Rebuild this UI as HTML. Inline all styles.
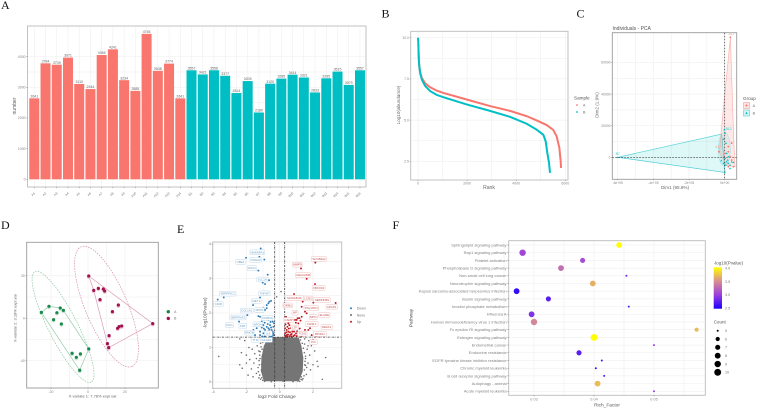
<!DOCTYPE html>
<html lang="en">
<head>
<meta charset="utf-8">
<title>Multi-panel proteomics figure</title>
<style>
html,body{margin:0;padding:0;background:#fff;}
svg{display:block;font-family:"Liberation Sans",sans-serif;}
.serif{font-family:"Liberation Serif",serif;}
</style>
</head>
<body>
<svg id="fig" xmlns="http://www.w3.org/2000/svg" width="757" height="408" viewBox="0 0 757 408">
<rect x="0" y="0" width="757" height="408" fill="#ffffff"/>
<text class="serif" x="1" y="9" font-size="12" fill="#111">A</text>
<text class="serif" x="381.5" y="17.5" font-size="12" fill="#111">B</text>
<text class="serif" x="576.5" y="17.5" font-size="12" fill="#111">C</text>
<text class="serif" x="1" y="229" font-size="12" fill="#111">D</text>
<text class="serif" x="177" y="233" font-size="12" fill="#111">E</text>
<text class="serif" x="392.5" y="229" font-size="12" fill="#111">F</text>
<defs>
<linearGradient id="pvalGrad" x1="0" y1="1" x2="0" y2="0">
<stop offset="0" stop-color="#1a00ff"/><stop offset="0.33" stop-color="#9a3ee0"/><stop offset="0.67" stop-color="#d9908f"/><stop offset="1" stop-color="#ffff00"/>
</linearGradient>
</defs>
</svg>
<script>
/* ---------- Panel A data ---------- */
const sampleNamesA = ["A1","A2","A3","A4","A5","A6","A7","A8","A9","A10","A11","A12","A13","A14"];
const sampleValuesA = [2641,3784,3739,3971,3110,2944,4055,4241,3234,2885,4745,3538,3774,2641];
const sampleNamesB = ["B1","B2","B3","B4","B5","B6","B7","B8","B9","B10","B11","B12","B13","B14","B15","B16"];
const sampleValuesB = [3557,3421,3558,3377,2814,3205,2180,3120,3285,3414,3321,2833,3295,3515,3079,3557];
const countTicks = [0,1000,2000,3000,4000];

/* ---------- Panel B data ---------- */
const rankTicks = [0,2000,4000,6000];
const abundanceTicks = [2.5,5,7.5,10];
const rankA = [14,41,81,149,285,489,760,1032,1983,2933,3748,4427,4834,5242,5513,5649,5758,5812,5826];
const abundanceA = [9.64,8.45,7.94,7.58,7.24,7.0,6.79,6.65,6.25,5.85,5.56,5.24,4.98,4.70,4.40,4.01,3.31,2.50,2.10];
const rankB = [0,14,27,54,95,163,285,489,760,1032,1983,2933,3748,4427,4834,5106,5201,5269,5337,5378];
const abundanceB = [10,9.64,8.85,8.25,7.8,7.44,7.08,6.77,6.53,6.39,5.95,5.56,5.2,4.78,4.42,4.11,3.71,3.0,2.4,1.8];

/* ---------- Panel C data ---------- */
const pcaXTicks = [-600000,-400000,-200000,0];
const pcaXLabels = ["-6e+05","-4e+05","-2e+05","0e+00"];
const pcaYTicks = [0,20000,40000,60000];
const pcaHullA = [[31800,76000],[-26000,8900],[-30000,3000],[11000,-4900],[58000,-6000],[52000,6800]];
const pcaHullB = [[-600000,0],[-17000,14700],[2000,-9600]];
const pcaPointsA = [[31800,76000],[-33000,3500],[20000,6800],[39000,9000],[20000,3500],[30000,400],[49000,-6000],[2000,2500],[39000,-1700],[20000,-6000]];
const pcaPointsB = [[-600000,0],[-2000,17500],[2000,15300],[-6000,11500],[7000,9000],[-19000,-2100],[11000,2500],[20000,400],[2000,-600],[11000,-2800],[20000,-3800],[30000,-4900],[6000,-4900],[17000,-1700],[39000,-2800],[30000,-7000],[49000,-3200],[0,-9600],[-7000,-3800]];

/* ---------- Panel D data ---------- */
const plsdaXTicks = [-20,0,20];
const plsdaYTicks = [-40,0,40];
const plsdaA = [[-25.2,5.6],[-21.1,11.3],[-15,9.7],[-13.3,7.5],[-16.8,5.3],[-18.6,-1.3],[-14.4,-5.3],[-8.6,-32.9],[-4.1,-33.5],[-6.3,-36.7],[-4.5,-48.9],[0.4,-28.8]];
const plsdaB = [[0.4,39.8],[3.1,26.3],[5.6,28.2],[8.3,27.6],[9,25.7],[6.5,17.6],[16.4,12.5],[13.2,6.3],[35,-5],[18.2,-7.2],[16.8,-7.8],[16,-9.4],[11.4,-16.3],[10.5,-23.8],[11.2,-27.6]];
const plsdaHullA = [[-25.2,5.6],[-21.1,11.3],[-15,9.7],[-13.3,7.5],[0.4,-28.8],[-4.5,-48.9]];
const plsdaHullB = [[0.4,39.8],[35,-5],[11.2,-27.6],[10.5,-23.8],[3.1,26.3]];
const plsdaEllipseCentreA = [-13.5,-8];
const plsdaEllipseCentreB = [10,11];

/* ---------- Panel E data ---------- */
const fcTicks = [-4,-2,0,2];
const logPTicks = [0,1,2,3,4];
const volcanoDown = [[-1.14,3.87],[-1.22,3.63],[-0.92,3.55],[-2.02,3.60],[-1.28,3.23],[-0.72,3.11],[-1.22,3.01],[-1.02,2.88],[-0.88,2.84],[-0.64,2.95],[-3.72,2.39],[-3.36,2.45],[-1.6,2.23],[-1.54,2.33],[-1.18,2.45],[-0.78,2.14],[-0.62,2.33],[-0.52,2.35],[-0.68,2.28],[-0.78,2.23],[-0.98,2.15],[-0.88,2.09],[-1.94,1.94],[-2.08,1.89],[-2.44,1.75],[-1.28,1.91],[-1.18,1.89],[-0.88,1.89],[-0.58,1.89],[-0.48,1.85],[-0.68,1.80],[-1.28,1.70],[-0.98,1.65],[-0.78,1.60],[-0.58,1.65],[-0.38,1.60],[-0.88,1.51],[-0.68,1.56],[-1.18,1.46],[-0.98,1.41],[-0.48,1.51],[-0.38,1.41],[-1.58,1.51],[-1.38,1.56],[-0.78,1.36],[-0.58,1.41],[-0.38,1.36],[-1.18,1.36],[-1.48,1.36],[-0.34,1.70],[-0.42,1.75],[-0.58,1.31],[-0.88,1.33],[-1.08,1.58],[-0.68,1.46],[-0.52,1.58],[-0.72,1.68],[-0.85,1.44],[-0.95,1.55],[-0.62,1.52],[-0.42,1.46],[-0.55,1.74],[-1.08,1.75],[-0.9,1.72],[-0.72,1.38],[-0.48,1.33],[-1.05,1.32]];
const volcanoUp = [[2.14,3.46],[1.28,3.29],[1.62,2.99],[2.12,2.84],[0.86,2.55],[2.02,2.30],[3.36,2.29],[1.38,2.33],[1.32,2.18],[1.52,2.04],[1.18,1.85],[1.02,1.80],[0.92,1.80],[1.12,1.70],[1.32,1.89],[1.62,1.99],[1.82,1.56],[1.72,1.51],[1.92,1.36],[0.38,1.89],[0.46,1.60],[0.58,1.65],[0.42,1.51],[0.52,1.46],[0.66,1.56],[0.78,1.60],[0.86,1.46],[0.98,1.41],[0.42,1.36],[0.58,1.33],[0.72,1.39],[0.32,1.41],[0.32,1.56],[0.36,1.31],[1.12,1.36],[1.32,1.33],[1.52,1.51],[0.82,1.33],[0.46,1.75],[0.35,1.67],[0.5,1.38],[0.62,1.44],[0.7,1.32],[0.4,1.44],[0.55,1.55],[0.9,1.36],[1.05,1.47],[1.2,1.55],[0.45,1.32],[0.32,1.34],[0.66,1.37],[0.76,1.46],[1.02,1.33],[0.52,1.7],[1.08,1.85],[0.97,1.72],[1.25,1.78],[2.2,1.33],[2.0,1.22]];
const volcanoNoneCore = [[-0.7,1.28],[-0.25,1.3],[0.3,1.3],[1.15,1.28],[1.3,1.05],[1.42,0.7],[1.38,0.3],[1.15,0.02],[-0.95,0.02],[-1.12,0.3],[-1.1,0.7],[-0.95,1.05]];
const volcanoNone = [[-3.66,0.74],[2.56,0.08],[2.76,0.71],[0.08,2.62],[-0.18,2.47],[-2.4,1.25],[-2.1,1.2],[-1.5,1.25],[-1.3,1.18],[-1.1,1.22],[-2.3,0.85],[-2.0,0.78],[-1.85,1.0],[-1.65,0.95],[-1.5,0.82],[-1.35,1.05],[-1.25,0.9],[-2.4,0.5],[-2.25,0.4],[-2.0,0.55],[-1.8,0.65],[-1.7,0.38],[-1.55,0.55],[-1.4,0.68],[-1.3,0.42],[-1.9,0.2],[-1.6,0.15],[-1.4,0.25],[-1.25,0.12],[-1.15,0.08],[-1.05,0.75],[-1.2,0.78],[-1.28,0.3],[-1.15,1.12],[-0.95,1.2],[1.5,1.25],[1.75,1.2],[1.9,1.05],[2.1,0.9],[1.65,0.95],[1.8,0.78],[2.25,0.6],[2.0,0.5],[1.85,0.35],[1.7,0.55],[1.6,0.22],[1.4,0.1],[1.55,0.75],[1.5,1.1],[1.35,0.06],[1.3,0.15],[1.7,1.05],[2.3,0.45],[1.62,0.42],[-0.9,0.02],[-0.5,0.01],[0.2,0.02],[0.8,0.01],[1.1,0.03],[-1.1,0.35],[-1.08,0.5],[1.48,0.35],[1.52,0.6],[1.55,0.48],[-1.22,0.5],[-1.18,0.68],[-1.06,0.95],[-1.12,1.02],[-1.02,1.15],[-0.88,1.27],[-0.8,1.2],[-1.18,0.88],[-1.24,0.62],[-1.2,0.2],[-1.08,0.12],[-1.02,0.05],[1.25,1.22],[1.36,1.12],[1.42,0.98],[1.48,0.85],[1.55,0.68],[1.5,0.5],[1.46,0.18],[1.28,0.08],[1.22,1.3],[1.2,0.02],[-0.95,1.3],[-0.82,1.3]];
const downLabelNames = ["HNRNPA1","YWHAZ","UBE2","RAC1","SLC1A","TNFSF","SERPINC1","CD36","MET1","COL1A1","DPP4","GNPDA","SERPINA3","FGG","KRT","APOA","HMGB","IL6","TTR","CFHR1"];
const downLabelAt = [[-1.34,3.76],[-1.44,3.54],[-2.36,3.48],[-1.66,3.30],[-1.04,2.97],[-0.92,2.57],[-3.12,2.56],[-3.68,2.26],[-1.4,2.35],[-1.98,2.07],[-1.22,2.09],[-0.74,1.86],[-2.52,1.87],[-3.02,1.65],[-2.22,1.63],[-1.32,1.67],[-1.82,1.43],[-0.68,1.41],[-1.48,1.22],[-0.78,1.22]];
const upLabelNames = ["SCGB3A2","MMP9","CEACAM8","FBXO32","S100A8/A9","LCN2","SERPINB1","ORM1","PGLYRP1","AZGP1","HP","MPO","ELANE","CAMP","CHI3L1","DEFA1","LTF","TCN1","BPIFA1","PI3"];
const upLabelAt = [[2.36,3.57],[1.06,3.40],[1.40,3.10],[2.34,2.73],[0.88,2.43],[1.70,2.42],[2.54,2.38],[0.48,2.22],[1.9,2.14],[3.12,2.18],[0.92,2.01],[2.02,1.88],[2.68,1.94],[0.54,1.80],[1.92,1.68],[2.82,1.59],[0.9,1.58],[1.36,1.40],[2.42,1.39],[2.02,1.16]];

/* ---------- Panel F data ---------- */
const pathways = ["Sphingolipid signaling pathway","Rap1 signaling pathway","Platelet activation","Phospholipase D signaling pathway","Non-small cell lung cancer","Neurotrophin signaling pathway","Kaposi sarcoma-associated herpesvirus infection","Insulin signaling pathway","Inositol phosphate metabolism","Influenza A","Human immunodeficiency virus 1 infection","Fc epsilon RI signaling pathway","Estrogen signaling pathway","Endometrial cancer","Endocrine resistance","EGFR tyrosine kinase inhibitor resistance","Chronic myeloid leukemia","B cell receptor signaling pathway","Autophagy - animal","Acute myeloid leukemia"];
const richFactor = [0.0442,0.0281,0.0381,0.0345,0.0454,0.0398,0.0271,0.0324,0.0458,0.0296,0.03,0.0571,0.04,0.05,0.0375,0.0413,0.0403,0.0417,0.0406,0.05];
const pathwayCount = [8,9,7,8,5,8,8,7,5,8,9,6,10,5,7,5,5,5,8,5];
const negLogP = [4.0,3.05,3.1,3.3,2.8,3.65,2.6,2.75,2.75,2.9,3.45,3.7,4.0,3.0,2.75,2.65,2.6,2.7,3.7,3.0];
const richTicks = [0.03,0.04,0.05];
const pLegendTicks = [2.5,3.0,3.5,4.0];
const countLegend = [5,6,7,8,9,10];

/* ---------- helpers ---------- */
const NS = 'http://www.w3.org/2000/svg';
const fig = document.getElementById('fig');
function mk(tag, attrs, parent, text) {
  const e = document.createElementNS(NS, tag);
  for (const k in attrs) e.setAttribute(k, attrs[k]);
  if (text !== undefined) e.textContent = text;
  (parent || fig).appendChild(e);
  return e;
}
function linear(d0, d1, r0, r1) { return v => r0 + (v - d0) * (r1 - r0) / (d1 - d0); }
function group(name) {
  const g = mk('g', {});
  
  
  return g;
}
function label(g, name, x, y, str, size, fill, anchor, rot) {
  const a = {x: x, y: y, 'font-size': size, fill: fill, 'text-anchor': anchor || 'middle'};
  if (rot !== undefined) a.transform = 'rotate(' + rot + ' ' + x + ' ' + y + ')';
  const t = mk('text', a, g, str);
  
  
  return t;
}
function frame(g, x0, y0, x1, y1, color, xs, ys) {
  for (const v of xs) {
    const l = mk('line', {x1: v, x2: v, y1: y0, y2: y1, stroke: '#ececec', 'stroke-width': 0.5}, g);
    
    
  }
  for (const v of ys) {
    const l = mk('line', {x1: x0, x2: x1, y1: v, y2: v, stroke: '#ececec', 'stroke-width': 0.5}, g);
    
    
  }
  const r = mk('rect', {x: x0, y: y0, width: x1 - x0, height: y1 - y0, fill: 'none', stroke: color, 'stroke-width': 0.9}, g);
  
  
}
function mids(a) { const o = []; for (let i = 0; i + 1 < a.length; i++) o.push((a[i] + a[i + 1]) / 2); return o; }
function tick(g, x1, y1, x2, y2) {
  const l = mk('line', {x1: x1, y1: y1, x2: x2, y2: y2, stroke: '#666', 'stroke-width': 0.4}, g);
  
  
}
function ptsStr(list, sx, sy) { return list.map(p => sx(p[0]).toFixed(2) + ',' + sy(p[1]).toFixed(2)).join(' '); }

/* ---------- Panel A ---------- */
(function () {
  const g = group('panel-a-bar-chart');
  const ax = i => 34.3 + i * 11.23;
  const ay = linear(0, 4000, 179.3, 56.7);
  const names = sampleNamesA.concat(sampleNamesB);
  const vals = sampleValuesA.concat(sampleValuesB);
  frame(g, 27.5, 26, 366, 187, '#bcbcbc', names.map((n, i) => ax(i)), countTicks.map(ay).concat(mids(countTicks.map(ay))));
  names.forEach((n, i) => {
    const isA = i < sampleNamesA.length;
    const b = mk('rect', {x: ax(i) - 5, y: ay(vals[i]), width: 10, height: ay(0) - ay(vals[i]), fill: isA ? '#F8766D' : '#00BFC4'}, g);
    
    
    label(g, 'bar-value-' + n, ax(i), ay(vals[i]) - 0.9, String(vals[i]), 3.5, '#666');
    tick(g, ax(i), 187, ax(i), 188.2);
    label(g, 'x-tick-label-' + n, ax(i) + 1, 193.5, n, 3.2, '#777', 'end', -45);
  });
  countTicks.forEach(v => {
    tick(g, 26.3, ay(v), 27.5, ay(v));
    label(g, 'y-tick-label', 25.6, ay(v) + 1.2, String(v), 3.5, '#888', 'end');
  });
  label(g, 'y-axis-title', 16, 106, 'number', 5, '#555', 'middle', -90);
})();

/* ---------- Panel B ---------- */
(function () {
  const g = group('panel-b-rank-abundance');
  const sx = linear(0, 6000, 418, 565.3);
  const sy = linear(2.5, 10, 161.3, 37.7);
  const gx = rankTicks.map(sx), gy = abundanceTicks.map(sy);
  frame(g, 410.7, 31.3, 568, 180, '#bcbcbc', gx.concat(mids(gx)), gy.concat(mids(gy)));
  rankTicks.forEach(v => {
    tick(g, sx(v), 180, sx(v), 181);
    label(g, 'x-tick-label', sx(v), 184.3, String(v), 3.5, '#888');
  });
  abundanceTicks.forEach(v => {
    tick(g, 409.7, sy(v), 410.7, sy(v));
    label(g, 'y-tick-label', 409, sy(v) + 1.2, v.toFixed(1), 3.5, '#888', 'end');
  });
  const lineA = mk('polyline', {points: rankA.map((r, i) => sx(r).toFixed(2) + ',' + sy(abundanceA[i]).toFixed(2)).join(' '), fill: 'none', stroke: '#F8766D', 'stroke-width': 2}, g);
  
  
  const lineB = mk('polyline', {points: rankB.map((r, i) => sx(r).toFixed(2) + ',' + sy(abundanceB[i]).toFixed(2)).join(' '), fill: 'none', stroke: '#00BFC4', 'stroke-width': 2}, g);
  
  
  label(g, 'x-axis-title', 489, 189, 'Rank', 5, '#666');
  label(g, 'y-axis-title', 400, 105, 'Log10(abundance)', 4.6, '#666', 'middle', -90);
  label(g, 'legend-title', 574, 99.5, 'Sample', 4.6, '#555', 'start');
  const la = mk('circle', {cx: 577, cy: 105, r: 0.9, fill: '#F8766D'}, g);
  
  
  label(g, 'legend-label-a', 583, 106.3, 'A', 3.6, '#666', 'start');
  const lb = mk('circle', {cx: 577, cy: 112, r: 0.9, fill: '#00BFC4'}, g);
  
  
  label(g, 'legend-label-b', 583, 113.3, 'B', 3.6, '#666', 'start');
})();

/* ---------- Panel C ---------- */
(function () {
  const g = group('panel-c-pca');
  const sx = linear(0, 200000, 724.7, 760.37);
  const sy = linear(0, 20000, 157.3, 125.7);
  const gx = pcaXTicks.map(sx), gy = pcaYTicks.map(sy);
  frame(g, 612.3, 32.7, 736.7, 179.3, '#9a9a9a', gx.concat(mids(gx)), gy.concat(mids(gy)));
  label(g, 'chart-title', 612.5, 30, 'Individuals - PCA', 5, '#555', 'start');
  const hb = mk('polygon', {points: ptsStr(pcaHullB, sx, sy), fill: 'rgba(0,191,196,0.13)', stroke: '#4fd0d3', 'stroke-width': 0.7}, g);
  
  
  const ha = mk('polygon', {points: ptsStr(pcaHullA, sx, sy), fill: 'rgba(248,118,109,0.16)', stroke: '#f9b5b0', 'stroke-width': 0.7}, g);
  
  
  const ell = mk('ellipse', {cx: sx(-2000), cy: sy(5000), rx: 6, ry: 17, fill: 'rgba(0,191,196,0.08)', stroke: '#9adfe1', 'stroke-width': 0.5}, g);
  
  
  const v0 = mk('line', {x1: sx(0), x2: sx(0), y1: 32.7, y2: 179.3, stroke: '#333', 'stroke-width': 0.7, 'stroke-dasharray': '1.6 1.4'}, g);
  
  
  const h0 = mk('line', {x1: 612.3, x2: 736.7, y1: sy(0), y2: sy(0), stroke: '#333', 'stroke-width': 0.7, 'stroke-dasharray': '1.6 1.4'}, g);
  
  
  pcaPointsA.forEach(p => {
    const c = mk('circle', {cx: sx(p[0]), cy: sy(p[1]), r: 0.9, fill: '#F8766D'}, g);
    
    
  });
  pcaPointsB.forEach(p => {
    const x = sx(p[0]), y = sy(p[1]);
    const t = mk('polygon', {points: x + ',' + (y - 1.1) + ' ' + (x - 1.1) + ',' + (y + 0.8) + ' ' + (x + 1.1) + ',' + (y + 0.8), fill: '#00BFC4'}, g);
    
    
  });
  label(g, 'point-label-a11', sx(pcaPointsA[0][0]) + 1, sy(pcaPointsA[0][1]) - 2, 'A11', 3.4, '#F8A19A');
  label(g, 'point-label-a10', sx(-36000), sy(5900), 'A10', 3.4, '#F8A19A');
  label(g, 'point-label-b7', sx(-600000), sy(0) - 2.2, 'B7', 3.4, '#33c5c9');
  label(g, 'point-label-b12', sx(22000), sy(17200), 'B12', 3.4, '#33c5c9');
  pcaXTicks.forEach((v, i) => {
    tick(g, sx(v), 179.3, sx(v), 180.3);
    label(g, 'x-tick-label', sx(v), 184, pcaXLabels[i], 3.3, '#888');
  });
  pcaYTicks.forEach(v => {
    tick(g, 611.2, sy(v), 612.3, sy(v));
    label(g, 'y-tick-label', 610.5, sy(v) + 1.2, String(v), 3.4, '#888', 'end');
  });
  label(g, 'x-axis-title', 675, 189, 'Dim1 (95.8%)', 4.6, '#666');
  label(g, 'y-axis-title', 598.5, 105, 'Dim2 (1.9%)', 4.6, '#666', 'middle', -90);
  label(g, 'legend-title', 743, 100, 'Group', 4.6, '#555', 'start');
  const ka = mk('rect', {x: 743.5, y: 102.5, width: 6, height: 6, fill: '#fde3e1', stroke: '#F8A19A', 'stroke-width': 0.6}, g);
  
  
  const kad = mk('circle', {cx: 746.5, cy: 105.5, r: 1, fill: '#F8766D'}, g);
  
  
  label(g, 'legend-label-a', 752.6, 107, 'A', 3.6, '#666', 'start');
  const kb = mk('rect', {x: 743.5, y: 110, width: 6, height: 6, fill: '#d6f3f4', stroke: '#4fd0d3', 'stroke-width': 0.6}, g);
  
  
  const kbd = mk('polygon', {points: '746.5,111.8 745.3,114 747.7,114', fill: '#00BFC4'}, g);
  
  
  label(g, 'legend-label-b', 752.6, 114.5, 'B', 3.6, '#666', 'start');
})();

/* ---------- Panel D ---------- */
(function () {
  const g = group('panel-d-plsda');
  const sx = linear(0, 20, 88, 125);
  const sy = linear(0, 40, 318.3, 275.8);
  const gx = plsdaXTicks.map(sx), gy = plsdaYTicks.map(sy);
  frame(g, 26.7, 242.3, 158.3, 388, '#9a9a9a', gx.concat(mids(gx)), gy.concat(mids(gy)));
  const e1 = mk('ellipse', {cx: sx(plsdaEllipseCentreA[0]), cy: sy(plsdaEllipseCentreA[1]), rx: 62, ry: 14.5, fill: 'none', stroke: '#8fc7a4', 'stroke-width': 0.7, 'stroke-dasharray': '1.6 1.1', transform: 'rotate(63 ' + sx(plsdaEllipseCentreA[0]) + ' ' + sy(plsdaEllipseCentreA[1]) + ')'}, g);
  
  
  const e2 = mk('ellipse', {cx: sx(plsdaEllipseCentreB[0]), cy: sy(plsdaEllipseCentreB[1]), rx: 65, ry: 21, fill: 'none', stroke: '#d890ae', 'stroke-width': 0.7, 'stroke-dasharray': '1.6 1.1', transform: 'rotate(67 ' + sx(plsdaEllipseCentreB[0]) + ' ' + sy(plsdaEllipseCentreB[1]) + ')'}, g);
  
  
  const h1 = mk('polygon', {points: ptsStr(plsdaHullA, sx, sy), fill: 'none', stroke: '#94cba9', 'stroke-width': 0.7}, g);
  
  
  const h2 = mk('polygon', {points: ptsStr(plsdaHullB, sx, sy), fill: 'none', stroke: '#dc9ab5', 'stroke-width': 0.7}, g);
  
  
  [[plsdaA, '#c7e3d1', '#178a4a', 'plsda-point-a'], [plsdaB, '#eec6d6', '#a3104e', 'plsda-point-b']].forEach(set => {
    set[0].forEach(p => {
      const h = mk('circle', {cx: sx(p[0]), cy: sy(p[1]) + 1, r: 1.9, fill: set[1]}, g);
      
      
      const c = mk('circle', {cx: sx(p[0]), cy: sy(p[1]), r: 1.6, fill: set[2]}, g);
      
      
    });
  });
  plsdaXTicks.forEach(v => {
    tick(g, sx(v), 388, sx(v), 389);
    label(g, 'x-tick-label', sx(v), 393, String(v), 3.4, '#888');
  });
  plsdaYTicks.forEach(v => {
    tick(g, 25.6, sy(v), 26.7, sy(v));
    label(g, 'y-tick-label', 24.8, sy(v) + 1.2, String(v), 3.4, '#888', 'end');
  });
  label(g, 'x-axis-title', 92.7, 397.5, 'X-variate 1: 7.78% expl.var', 4, '#666');
  label(g, 'y-axis-title', 16.5, 318, 'X-variate 2: 3.18% expl.var', 4, '#666', 'middle', -90);
  const la = mk('circle', {cx: 168.3, cy: 311.7, r: 1.7, fill: '#178a4a'}, g);
  
  
  label(g, 'legend-label-a', 174, 313, 'A', 3.6, '#777', 'start');
  const lb = mk('circle', {cx: 168.3, cy: 318.4, r: 1.7, fill: '#a3104e'}, g);
  
  
  label(g, 'legend-label-b', 174, 319.7, 'B', 3.6, '#777', 'start');
})();

/* ---------- Panel E ---------- */
(function () {
  const g = group('panel-e-volcano');
  const sx = linear(0, 2, 279.7, 313);
  const sy = linear(0, 4, 382, 244);
  const gx = fcTicks.map(sx), gy = logPTicks.map(sy);
  frame(g, 212.7, 242, 341.7, 388.3, '#bcbcbc', gx.concat(mids(gx)), gy.concat(mids(gy)));
  const core = mk('polygon', {points: ptsStr(volcanoNoneCore, sx, sy), fill: '#757575'}, g);
  
  
  volcanoNone.forEach(p => {
    const c = mk('circle', {cx: sx(p[0]), cy: sy(p[1]), r: 0.8, fill: '#6f6f6f'}, g);
    
    
  });
  volcanoDown.forEach(p => {
    const c = mk('circle', {cx: sx(p[0]), cy: sy(p[1]), r: 0.95, fill: '#2b7bba'}, g);
    
    
  });
  volcanoUp.forEach(p => {
    const c = mk('circle', {cx: sx(p[0]), cy: sy(p[1]), r: 0.95, fill: '#c0141c'}, g);
    
    
  });
  [-0.3, 0.3].forEach(v => {
    const l = mk('line', {x1: sx(v), x2: sx(v), y1: 242, y2: 388.3, stroke: '#333', 'stroke-width': 0.8, 'stroke-dasharray': '2 1 0.6 1'}, g);
    
    
  });
  const ht = mk('line', {x1: 212.7, x2: 341.7, y1: sy(1.3), y2: sy(1.3), stroke: '#333', 'stroke-width': 0.8, 'stroke-dasharray': '2 1 0.6 1'}, g);
  
  
  function callouts(names, at, stroke, ink, nm) {
    names.forEach((n, i) => {
      const w = n.length * 1.75 + 2.5, x = sx(at[i][0]), y = sy(at[i][1]);
      const r = mk('rect', {x: x - w / 2, y: y - 2.4, width: w, height: 4.8, rx: 0.6, fill: '#fff', stroke: stroke, 'stroke-width': 0.45}, g);
      
      
      label(g, nm + '-text', x, y + 1, n, 2.9, ink);
    });
  }
  callouts(downLabelNames, downLabelAt, '#b6d3e6', '#6a9fc4', 'down-gene-label');
  callouts(upLabelNames, upLabelAt, '#ecb5b5', '#c75050', 'up-gene-label');
  fcTicks.forEach(v => {
    tick(g, sx(v), 388.3, sx(v), 389.3);
    label(g, 'x-tick-label', sx(v), 393, String(v), 3.4, '#777');
  });
  logPTicks.forEach(v => {
    tick(g, 211.6, sy(v), 212.7, sy(v));
    label(g, 'y-tick-label', 211, sy(v) + 1.2, String(v), 3.6, '#777', 'end');
  });
  label(g, 'x-axis-title', 276.7, 398, 'log2 Fold Change', 4.8, '#555');
  label(g, 'y-axis-title', 206.5, 313, '-log10(Pvalue)', 4.8, '#555', 'middle', -90);
  const legend = [['Down', '#2b7bba', 308.3], ['None', '#6a6a6a', 315], ['Up', '#c0141c', 321.7]];
  legend.forEach(it => {
    const d = mk('circle', {cx: 351, cy: it[2], r: 1, fill: it[1]}, g);
    
    
    label(g, 'legend-label', 356.7, it[2] + 1.3, it[0], 3.6, '#777', 'start');
  });
})();

/* ---------- Panel F ---------- */
(function () {
  const g = group('panel-f-kegg-bubble');
  const sx = linear(0.03, 0.05, 534, 654);
  const sy = i => 245 + i * 7.7;
  const stops = [[2.5, [26, 0, 255]], [3.0, [154, 62, 224]], [3.5, [217, 144, 143]], [4.0, [255, 255, 0]]];
  function colour(p) {
    for (let i = 0; i + 1 < stops.length; i++) {
      if (p <= stops[i + 1][0]) {
        const t = (p - stops[i][0]) / (stops[i + 1][0] - stops[i][0]);
        const c = stops[i][1].map((v, k) => Math.round(v + (stops[i + 1][1][k] - v) * t));
        return 'rgb(' + c.join(',') + ')';
      }
    }
    return 'rgb(255,255,0)';
  }
  const radius = n => 1 + 1.1 * Math.sqrt(n - 5);
  const gx = richTicks.map(sx);
  frame(g, 508.7, 240.7, 705.3, 395.3, '#bcbcbc', gx.concat(mids(gx)).concat([sx(0.025), sx(0.055)]), pathways.map((p, i) => sy(i)));
  pathways.forEach((name, i) => {
    tick(g, 507.3, sy(i), 508.7, sy(i));
    label(g, 'pathway-label', 506.6, sy(i) + 1.4, name, 4.05, '#808080', 'end');
    const c = mk('circle', {cx: sx(richFactor[i]), cy: sy(i), r: radius(pathwayCount[i]), fill: colour(negLogP[i])}, g);
    
    
  });
  richTicks.forEach(v => {
    tick(g, sx(v), 395.3, sx(v), 396.5);
    label(g, 'x-tick-label', sx(v), 400.5, v.toFixed(2), 3.8, '#888');
  });
  label(g, 'x-axis-title', 607, 406.5, 'Rich_Factor', 4.8, '#555');
  label(g, 'y-axis-title', 412.5, 318, 'Pathway', 4.8, '#444', 'middle', -90);
  label(g, 'color-legend-title', 713.7, 264.5, '-log10(Pvalue)', 4.5, '#555', 'start');
  const bar = mk('rect', {x: 713.7, y: 267.3, width: 8.3, height: 41.4, fill: 'url(#pvalGrad)'}, g);
  
  
  const sp = linear(2.5, 4, 308, 268.3);
  pLegendTicks.forEach(v => {
    label(g, 'color-legend-label', 725, sp(v) + 1.3, v.toFixed(1), 3.7, '#777', 'start');
  });
  label(g, 'size-legend-title', 713.7, 323.5, 'Count', 4.5, '#555', 'start');
  countLegend.forEach((n, i) => {
    const y = 330.7 + i * 8.33;
    const d = mk('circle', {cx: 717.7, cy: y, r: radius(n), fill: '#000'}, g);
    
    
    label(g, 'size-legend-label', 725, y + 1.3, String(n), 3.7, '#777', 'start');
  });
})();
</script>
</body>
</html>
